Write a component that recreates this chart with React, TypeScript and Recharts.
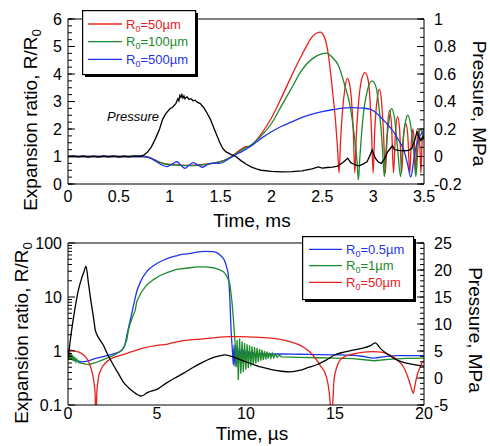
import React from 'react';
import { LineChart, Line, XAxis, YAxis, Legend, ReferenceDot } from 'recharts';

const FONT = '"Liberation Sans", Arial, Helvetica, sans-serif';
const BLACK = '#000000';
const RED = '#e8201c';
const GREEN = '#1b8a2b';
const BLUE = '#1f35e8';

// ---------------- Top panel (time in ms) ----------------
const topTimeTicks = [0, 0.5, 1, 1.5, 2, 2.5, 3, 3.5];
const topRatioTicks = [0, 1, 2, 3, 4, 5, 6];
const topPressureTicks = [-0.2, 0, 0.2, 0.4, 0.6, 0.8, 1];
const topLegendLabels = ['=50µm', '=100µm', '=500µm'];
const topLegendColors = [RED, GREEN, BLUE];

const topPressure: [number, number][] = [
  [0, 0.0], [0.05, 0.004], [0.1, -0.003], [0.15, 0.005], [0.2, -0.004], [0.25, 0.003], [0.3, -0.005],
  [0.35, 0.004], [0.4, -0.002], [0.45, 0.005], [0.5, -0.004], [0.55, 0.003], [0.6, -0.003], [0.65, 0.004],
  [0.7, 0.002], [0.74, 0.008], [0.78, 0.03], [0.82, 0.07], [0.86, 0.13], [0.9, 0.2], [0.93, 0.27],
  [0.96, 0.31], [1.0, 0.345], [1.03, 0.36], [1.06, 0.385], [1.08, 0.42], [1.09, 0.405], [1.1, 0.445],
  [1.11, 0.43], [1.12, 0.45], [1.13, 0.425], [1.14, 0.44], [1.15, 0.42], [1.17, 0.435], [1.19, 0.415],
  [1.21, 0.42], [1.23, 0.405], [1.25, 0.41], [1.27, 0.395], [1.3, 0.385], [1.33, 0.36], [1.36, 0.325],
  [1.4, 0.27], [1.43, 0.215], [1.46, 0.16], [1.49, 0.105], [1.52, 0.06], [1.55, 0.035], [1.6, 0.015],
  [1.65, 0.0], [1.7, -0.03], [1.75, -0.055], [1.8, -0.075], [1.85, -0.09], [1.9, -0.1], [2.0, -0.108],
  [2.1, -0.112], [2.2, -0.11], [2.3, -0.105], [2.4, -0.09], [2.46, -0.075], [2.5, -0.085], [2.55, -0.08],
  [2.6, -0.078], [2.65, -0.07], [2.7, -0.045], [2.75, -0.012], [2.78, -0.045], [2.82, -0.06], [2.86, -0.068],
  [2.9, -0.055], [2.94, -0.038], [2.97, 0.01], [2.99, 0.048], [3.02, -0.01], [3.05, -0.04], [3.08, -0.05],
  [3.11, -0.02], [3.14, 0.03], [3.17, 0.06], [3.19, 0.078], [3.21, 0.05], [3.25, 0.045], [3.3, 0.042],
  [3.35, 0.045], [3.38, 0.06], [3.41, 0.12], [3.43, 0.18], [3.45, 0.14], [3.47, 0.115], [3.49, 0.145], [3.5, 0.13],
];

const topR50: [number, number][] = [
  [0, 1], [0.75, 1], [0.8, 0.97], [0.85, 0.88], [0.9, 0.8], [0.95, 0.74], [1.0, 0.71], [1.1, 0.69],
  [1.2, 0.68], [1.3, 0.7], [1.4, 0.74], [1.5, 0.82], [1.55, 0.88], [1.6, 0.98], [1.65, 1.12], [1.7, 1.26],
  [1.75, 1.36], [1.79, 1.38], [1.83, 1.5], [1.9, 1.82], [2.0, 2.4], [2.1, 3.15], [2.2, 3.95], [2.3, 4.7],
  [2.35, 5.05], [2.4, 5.35], [2.45, 5.5], [2.48, 5.52], [2.52, 5.35], [2.56, 4.7], [2.6, 3.4], [2.63, 2.3],
  [2.65, 1.3], [2.665, 0.4], [2.68, 1.6], [2.7, 2.7], [2.72, 3.4], [2.745, 3.84], [2.77, 3.6], [2.79, 2.9],
  [2.805, 1.9], [2.82, 0.4], [2.835, 1.8], [2.86, 3.1], [2.89, 3.85], [2.92, 4.05], [2.95, 3.8], [2.97, 3.0],
  [2.985, 1.8], [3.0, 0.4], [3.015, 1.9], [3.04, 3.1], [3.06, 3.44], [3.08, 3.1], [3.1, 2.0], [3.12, 0.4],
  [3.14, 2.0], [3.16, 2.69], [3.18, 2.2], [3.2, 0.4], [3.22, 1.9], [3.24, 2.45], [3.26, 2.0], [3.28, 0.4],
  [3.3, 1.8], [3.32, 2.2], [3.34, 1.8], [3.36, 0.4], [3.375, 1.5], [3.39, 2.0], [3.405, 1.5], [3.42, 0.4],
  [3.43, 1.4], [3.445, 1.95], [3.46, 1.3], [3.47, 0.4], [3.48, 1.4], [3.49, 1.9], [3.5, 1.7],
];

const topR100: [number, number][] = [
  [0, 1], [0.75, 1], [0.8, 0.96], [0.9, 0.79], [1.0, 0.7], [1.1, 0.68], [1.2, 0.67], [1.3, 0.69],
  [1.4, 0.73], [1.5, 0.81], [1.6, 0.97], [1.7, 1.22], [1.8, 1.42], [1.9, 1.75], [2.0, 2.2], [2.1, 2.85],
  [2.2, 3.5], [2.3, 4.15], [2.4, 4.55], [2.5, 4.74], [2.54, 4.76], [2.6, 4.6], [2.66, 4.3], [2.72, 3.6],
  [2.77, 2.9], [2.81, 1.9], [2.84, 0.9], [2.855, 0.15], [2.87, 1.0], [2.9, 2.4], [2.94, 3.35], [2.99, 3.75],
  [3.03, 3.5], [3.06, 2.7], [3.09, 1.4], [3.11, 0.27], [3.13, 1.4], [3.16, 2.4], [3.18, 2.75], [3.21, 2.4],
  [3.24, 1.3], [3.27, 0.27], [3.29, 1.4], [3.32, 2.3], [3.34, 2.5], [3.37, 2.1], [3.4, 1.1], [3.42, 0.27],
  [3.44, 1.3], [3.46, 1.99], [3.48, 1.9], [3.5, 1.6],
];

const topR500: [number, number][] = [
  [0, 1], [0.75, 1], [0.77, 0.99], [0.82, 0.92], [0.87, 0.81], [0.92, 0.7], [0.97, 0.63], [1.02, 0.72],
  [1.07, 0.81], [1.11, 0.68], [1.15, 0.57], [1.19, 0.68], [1.23, 0.78], [1.28, 0.68], [1.32, 0.61],
  [1.36, 0.68], [1.4, 0.75], [1.45, 0.76], [1.49, 0.75], [1.53, 0.8], [1.56, 0.87], [1.6, 0.96],
  [1.65, 1.07], [1.7, 1.16], [1.8, 1.38], [1.9, 1.66], [2.0, 1.9], [2.1, 2.1], [2.2, 2.26], [2.3, 2.42],
  [2.4, 2.54], [2.5, 2.63], [2.6, 2.7], [2.7, 2.76], [2.8, 2.78], [2.9, 2.76], [2.97, 2.72], [3.05, 2.52],
  [3.12, 2.25], [3.2, 1.9], [3.25, 1.6], [3.3, 1.25], [3.34, 0.7], [3.37, 0.25], [3.4, 0.9], [3.43, 1.48],
  [3.47, 1.8], [3.5, 1.98],
];

// ---------------- Bottom panel (time in µs) ----------------
const botTimeTicks = [0, 5, 10, 15, 20];
const botRatioTicks = [0.1, 1, 10, 100];
const botPressureTicks = [-5, 0, 5, 10, 15, 20, 25];
const botLegendLabels = ['=0.5µm', '=1µm', '=50µm'];
const botLegendColors = [BLUE, GREEN, RED];

const botPressure: [number, number][] = [
  [0, 3.5], [0.15, 7.5], [0.3, 11], [0.45, 14], [0.6, 16.5], [0.77, 18.5], [0.9, 19.7], [1.01, 20.7],
  [1.15, 17.5], [1.3, 14], [1.45, 10.8], [1.53, 8.9], [1.75, 7.3], [1.98, 6.1], [2.25, 4.2], [2.55, 2.4],
  [2.8, 1.0], [3.1, -0.7], [3.4, -1.8], [3.67, -2.54], [3.9, -3.1], [4.1, -3.33], [4.25, -3.2], [4.4, -2.8],
  [4.6, -2.5], [5.0, -2.1], [5.5, -1.0], [6.0, 0.0], [6.5, 0.9], [7.0, 1.9], [7.5, 2.8], [8.0, 3.6],
  [8.5, 4.1], [8.8, 4.3], [9.2, 4.0], [9.6, 3.5], [10.0, 3.0], [10.5, 2.4], [11.0, 1.9], [11.5, 1.5],
  [12.0, 1.25], [12.5, 1.15], [13.0, 1.4], [13.5, 1.95], [14.0, 2.5], [14.5, 3.3], [15.0, 4.3], [15.5, 4.8],
  [16.0, 5.15], [16.5, 5.5], [17.0, 6.0], [17.25, 6.5], [17.6, 5.3], [18.0, 4.3], [18.5, 3.3], [19.0, 2.75],
  [19.5, 2.45], [20, 2.2],
];

const botR05: [number, number][] = [
  [0, 1.0], [0.1, 0.85], [0.2, 0.78], [0.3, 0.72], [0.41, 0.68], [0.6, 0.65], [0.79, 0.63], [1.0, 0.64],
  [1.16, 0.66], [1.5, 0.72], [1.91, 0.78], [2.3, 0.84], [2.66, 0.9], [3.03, 1.04], [3.15, 1.2], [3.22, 1.39],
  [3.3, 1.9], [3.41, 2.8], [3.48, 3.5], [3.6, 5.3], [3.72, 8], [3.86, 12.5], [4.1, 20], [4.42, 29.4],
  [4.8, 38], [5.17, 45], [5.6, 52], [6.1, 58], [6.5, 62], [6.85, 64], [7.23, 68], [7.7, 70], [8.16, 69],
  [8.4, 65], [8.54, 60], [8.7, 53], [8.82, 45], [8.92, 35], [9.01, 25], [9.06, 15], [9.1, 8.2], [9.15, 3],
  [9.2, 1.5], [9.25, 0.9], [9.29, 0.55], [9.33, 1.3], [9.38, 0.52], [9.43, 1.25], [9.48, 0.56], [9.53, 1.18],
  [9.58, 0.6], [9.63, 1.12], [9.69, 0.64], [9.75, 1.08], [9.81, 0.68], [9.87, 1.04], [9.93, 0.72], [10.0, 1.0],
  [10.07, 0.76], [10.14, 0.97], [10.21, 0.79], [10.28, 0.95], [10.36, 0.82], [10.44, 0.93], [10.52, 0.84],
  [10.6, 0.91], [10.7, 0.86], [10.8, 0.9], [11.0, 0.88], [12, 0.88], [13, 0.87], [14, 0.86], [15, 0.85],
  [16, 0.83], [16.5, 0.8], [17.2, 0.74], [17.8, 0.79], [18.5, 0.82], [20, 0.82],
];

const botR1: [number, number][] = [
  [0, 1.0], [0.04, 0.72], [0.08, 0.95], [0.12, 0.7], [0.16, 0.9], [0.2, 0.68], [0.24, 0.85], [0.28, 0.66],
  [0.32, 0.8], [0.36, 0.64], [0.4, 0.75], [0.45, 0.63], [0.5, 0.7], [0.6, 0.61], [0.79, 0.59], [1.0, 0.57],
  [1.16, 0.56], [1.5, 0.6], [1.91, 0.68], [2.3, 0.76], [2.66, 0.86], [3.03, 1.04], [3.15, 1.2], [3.3, 1.6],
  [3.4, 2.5], [3.5, 3.26], [3.65, 4.5], [3.78, 5.7], [3.86, 8.2], [4.1, 12], [4.42, 16.7], [4.8, 21],
  [5.17, 25], [5.6, 28.5], [6.1, 32.5], [6.85, 34.8], [7.23, 36], [7.7, 36], [8.16, 34.8], [8.5, 32],
  [8.73, 29.4], [8.9, 25], [9.0, 21], [9.1, 16.7], [9.2, 9], [9.29, 4.0], [9.38, 1.5], [9.45, 0.5],
  [9.5, 1.6], [9.57, 0.29], [9.64, 1.7], [9.71, 0.38], [9.78, 1.5], [9.85, 0.41], [9.92, 1.4], [9.99, 0.45],
  [10.06, 1.33], [10.13, 0.48], [10.2, 1.27], [10.27, 0.52], [10.34, 1.22], [10.41, 0.55], [10.48, 1.18],
  [10.55, 0.59], [10.62, 1.13], [10.69, 0.63], [10.76, 1.09], [10.83, 0.66], [10.9, 1.05], [10.97, 0.68],
  [11.04, 1.0], [11.11, 0.7], [11.18, 0.97], [11.25, 0.72], [11.32, 0.93], [11.4, 0.74], [11.48, 0.9],
  [11.56, 0.75], [11.65, 0.87], [11.75, 0.76], [11.85, 0.84], [12.0, 0.78], [13, 0.76], [14, 0.75],
  [15, 0.74], [16, 0.72], [17.2, 0.66], [18, 0.7], [19, 0.73], [20, 0.74],
];

const botR50: [number, number][] = [
  [0, 1.05], [0.4, 1.0], [0.8, 0.88], [1.0, 0.77], [1.16, 0.63], [1.3, 0.47], [1.44, 0.29], [1.52, 0.17],
  [1.57, 0.05], [1.62, 0.17], [1.72, 0.33], [1.85, 0.45], [2.0, 0.55], [2.3, 0.68], [2.6, 0.77], [3.0, 0.84],
  [3.5, 0.95], [4.16, 1.12], [5.0, 1.27], [5.54, 1.33], [6.0, 1.45], [6.85, 1.6], [7.42, 1.66], [8.0, 1.73],
  [8.5, 1.8], [9.1, 1.84], [9.66, 1.84], [10.5, 1.8], [11.53, 1.72], [12.0, 1.62], [12.47, 1.49], [13.0, 1.3],
  [13.4, 1.08], [13.7, 0.88], [13.97, 0.68], [14.2, 0.52], [14.44, 0.39], [14.6, 0.25], [14.72, 0.12],
  [14.8, 0.04], [14.88, 0.12], [14.95, 0.3], [15.1, 0.5], [15.28, 0.68], [15.6, 0.8], [16.03, 0.88],
  [16.5, 0.94], [17.15, 0.97], [17.6, 0.95], [18.09, 0.84], [18.5, 0.68], [18.84, 0.51], [19.05, 0.36],
  [19.21, 0.25], [19.32, 0.19], [19.4, 0.165], [19.48, 0.22], [19.59, 0.33], [19.75, 0.48], [19.87, 0.59],
  [20, 0.66],
];

// ---------------- helpers ----------------
const toPts = (arr: [number, number][]) => arr.map(([t, v]) => ({ t, v }));
const steps = (a: number, b: number, s: number) => {
  const out: number[] = [];
  for (let i = 0; a + i * s <= b + 1e-9; i++) out.push(+(a + i * s).toFixed(5));
  return out;
};
const topTimeMinor = steps(0, 3.5, 0.1);
const topRatioMinor = steps(0, 6, 0.25);
const topPressureMinor = steps(-0.2, 1, 0.2 / 3);
const botTimeMinor = steps(0, 20, 1);
const botRatioMinor = [0.2, 0.3, 0.4, 0.5, 0.6, 0.7, 0.8, 0.9, 2, 3, 4, 5, 6, 7, 8, 9, 20, 30, 40, 50, 60, 70, 80, 90];
const botPressureMinor = steps(-5, 25, 1);

const blank = () => '';
const lineStyle = { stroke: BLACK, strokeWidth: 1 };
const tickText = { fill: BLACK, fontSize: 16, fontFamily: FONT };
const MAJ = 7;
const MIN = 4;
const THIN = 0.01; // near-zero size so mirrored tick axes do not shift each other

// Mirrored thin axes that draw the inward-pointing major/minor tick marks on all four sides.
function frameAxes(xDomain: number[], xMajor: number[], xMinor: number[], lDomain: number[], lMajor: number[], lMinor: number[], lScale: any, rDomain: number[], rMajor: number[], rMinor: number[]) {
  const xs: [string, string, number[], number, boolean][] = [
    ['xbM', 'bottom', xMajor, MAJ, false], ['xbm', 'bottom', xMinor, MIN, false],
    ['xtM', 'top', xMajor, MAJ, true], ['xtm', 'top', xMinor, MIN, false],
  ];
  const ys: [string, string, number[], number, any, number[]][] = [
    ['lM', 'left', lMajor, MAJ, lScale, lDomain], ['lm', 'left', lMinor, MIN, lScale, lDomain],
    ['rM', 'right', rMajor, MAJ, 'linear', rDomain], ['rm', 'right', rMinor, MIN, 'linear', rDomain],
  ];
  return [
    ...xs.map(([id, ori, ticks, size, line]) => (
      <XAxis key={id} xAxisId={id} orientation={ori as any} mirror type="number" domain={xDomain} allowDataOverflow
        ticks={ticks} interval={0} height={THIN} tickSize={size} tickMargin={0} axisLine={line ? lineStyle : false}
        tickLine={lineStyle} tickFormatter={blank} />
    )),
    ...ys.map(([id, ori, ticks, size, scale, dom]) => (
      <YAxis key={id} yAxisId={id} orientation={ori as any} mirror type="number" scale={scale} domain={dom} allowDataOverflow
        ticks={ticks} interval={0} width={THIN} tickSize={size} tickMargin={0} axisLine={false}
        tickLine={lineStyle} tickFormatter={blank} />
    )),
  ];
}

const Sub0 = () => <tspan fontSize="70%" dy="0.3em">0</tspan>;

function leftTitle(dx: number, dyc: number) {
  return (props: any) => {
    const vb = props.viewBox || { x: 0, y: 0, width: 68, height: 165 };
    const cx = vb.x + dx;
    const cy = vb.y + vb.height / 2 + dyc;
    return (
      <text x={cx} y={cy} transform={`rotate(-90 ${cx} ${cy})`} textAnchor="middle" fill={BLACK} fontSize={19} fontFamily={FONT}>
        Expansion ratio, R/R<Sub0 />
      </text>
    );
  };
}
function rightTitle(dx: number, dyc: number) {
  return (props: any) => {
    const vb = props.viewBox || { x: 424, y: 0, width: 66, height: 165 };
    const cx = vb.x + dx;
    const cy = vb.y + vb.height / 2 + dyc;
    return (
      <text x={cx} y={cy} transform={`rotate(90 ${cx} ${cy})`} textAnchor="middle" fill={BLACK} fontSize={19} fontFamily={FONT}>
        Pressure, MPa
      </text>
    );
  };
}
function bottomTitle(text: string, dxc: number, dy: number) {
  return (props: any) => {
    const vb = props.viewBox || { x: 68, y: 0, width: 356, height: 40 };
    return (
      <text x={vb.x + vb.width / 2 + dxc} y={vb.y + dy} textAnchor="middle" fill={BLACK} fontSize={19} fontFamily={FONT}>
        {text}
      </text>
    );
  };
}

function LegendBox({ labels, colors, w, h, rows, lx1, lx2, tx }: any) {
  return (
    <svg width={w + 5} height={h + 5} style={{ display: 'block', overflow: 'visible' }}>
      <rect x={3} y={3} width={w} height={h} fill={BLACK} />
      <rect x={0.6} y={0.6} width={w} height={h} fill="#fff" stroke={BLACK} strokeWidth={1.2} />
      {labels.map((lab: string, i: number) => (
        <g key={lab}>
          <line x1={lx1} x2={lx2} y1={rows[i]} y2={rows[i]} stroke={colors[i]} strokeWidth={1.3} />
          <text x={tx} y={rows[i] + 4.6} fill={colors[i]} fontSize={13} fontFamily={FONT}>
            R<tspan fontSize={9} dy={3}>0</tspan><tspan dy={-3}>{lab}</tspan>
          </text>
        </g>
      ))}
    </svg>
  );
}

const PressureTag = (props: any) => {
  const vb = props.viewBox || { x: 159, y: 121 };
  return (
    <text x={vb.x} y={vb.y} textAnchor="end" fill={BLACK} fontSize={13} fontStyle="italic" fontFamily={FONT}>
      Pressure
    </text>
  );
};

export default function App() {
  return (
    <div style={{ position: 'absolute', left: 0, top: 0, width: 490, height: 446, background: '#fff', fontFamily: FONT }}>
      <div style={{ position: 'absolute', left: 0, top: 0 }}>
        <LineChart width={490} height={240} margin={{ top: 19, right: 0, bottom: 0, left: 0 }}>
          {frameAxes([0, 3.5], topTimeTicks, topTimeMinor, [0, 6], topRatioTicks, topRatioMinor, 'linear', [-0.2, 1], topPressureTicks, topPressureMinor)}
          <XAxis xAxisId="x" type="number" dataKey="t" domain={[0, 3.5]} allowDataOverflow ticks={topTimeTicks} interval={0}
            height={56} tickSize={0} tickMargin={7} axisLine={lineStyle} tickLine={false} tick={tickText}
            label={bottomTitle('Time, ms', 6, 43)} />
          <YAxis yAxisId="l" type="number" domain={[0, 6]} allowDataOverflow ticks={topRatioTicks} interval={0}
            width={68} tickSize={0} tickMargin={6} axisLine={lineStyle} tickLine={false} tick={tickText}
            label={leftTitle(37, 18.5)} />
          <YAxis yAxisId="r" orientation="right" type="number" domain={[-0.2, 1]} allowDataOverflow ticks={topPressureTicks} interval={0}
            width={66} tickSize={0} tickMargin={10} axisLine={lineStyle} tickLine={false} tick={tickText}
            label={rightTitle(49, 2)} />
          <Line xAxisId="x" yAxisId="l" data={toPts(topR50)} dataKey="v" name="R0=50µm" type="monotone" stroke={RED} strokeWidth={1.3} dot={false} activeDot={false} isAnimationActive={false} />
          <Line xAxisId="x" yAxisId="l" data={toPts(topR100)} dataKey="v" name="R0=100µm" type="monotone" stroke={GREEN} strokeWidth={1.3} dot={false} activeDot={false} isAnimationActive={false} />
          <Line xAxisId="x" yAxisId="l" data={toPts(topR500)} dataKey="v" name="R0=500µm" type="monotone" stroke={BLUE} strokeWidth={1.3} dot={false} activeDot={false} isAnimationActive={false} />
          <Line xAxisId="x" yAxisId="r" data={toPts(topPressure)} dataKey="v" name="Pressure" legendType="none" type="linear" stroke={BLACK} strokeWidth={1.3} dot={false} activeDot={false} isAnimationActive={false} />
          <ReferenceDot xAxisId="x" yAxisId="l" x={0.895} y={2.3} r={0} fill="none" stroke="none" label={PressureTag} />
          <Legend layout="horizontal" verticalAlign="middle" align="center"
            wrapperStyle={{ left: 82, top: 10, width: 120, height: 70 }}
            content={() => (
              <LegendBox labels={topLegendLabels} colors={topLegendColors} w={113} h={64}
                rows={[14, 31.7, 49.3]} lx1={6} lx2={40} tx={44} />
            )} />
        </LineChart>
      </div>
      <div style={{ position: 'absolute', left: 0, top: 220 }}>
        <LineChart width={490} height={226} margin={{ top: 23, right: 0, bottom: 0, left: 0 }}>
          {frameAxes([0, 20], botTimeTicks, botTimeMinor, [0.1, 100], botRatioTicks, botRatioMinor, 'log', [-5, 25], botPressureTicks, botPressureMinor)}
          <XAxis xAxisId="x" type="number" dataKey="t" domain={[0, 20]} allowDataOverflow ticks={botTimeTicks} interval={0}
            height={41} tickSize={0} tickMargin={3} axisLine={lineStyle} tickLine={false} tick={tickText}
            label={bottomTitle('Time, µs', 6, 35)} />
          <YAxis yAxisId="l" type="number" scale="log" domain={[0.1, 100]} allowDataOverflow ticks={botRatioTicks} interval={0}
            width={68} tickSize={0} tickMargin={6} axisLine={lineStyle} tickLine={false} tick={tickText}
            label={leftTitle(28, 9)} />
          <YAxis yAxisId="r" orientation="right" type="number" domain={[-5, 25]} allowDataOverflow ticks={botPressureTicks} interval={0}
            width={66} tickSize={0} tickMargin={10} axisLine={lineStyle} tickLine={false} tick={tickText}
            label={rightTitle(45, 6)} />
          <Line xAxisId="x" yAxisId="l" data={toPts(botR05)} dataKey="v" name="R0=0.5µm" type="monotone" stroke={BLUE} strokeWidth={1.3} dot={false} activeDot={false} isAnimationActive={false} />
          <Line xAxisId="x" yAxisId="l" data={toPts(botR1)} dataKey="v" name="R0=1µm" type="linear" stroke={GREEN} strokeWidth={1.3} dot={false} activeDot={false} isAnimationActive={false} />
          <Line xAxisId="x" yAxisId="l" data={toPts(botR50)} dataKey="v" name="R0=50µm" type="monotone" stroke={RED} strokeWidth={1.3} dot={false} activeDot={false} isAnimationActive={false} />
          <Line xAxisId="x" yAxisId="r" data={toPts(botPressure)} dataKey="v" name="Pressure" legendType="none" type="monotone" stroke={BLACK} strokeWidth={1.3} dot={false} activeDot={false} isAnimationActive={false} />
          <Legend layout="horizontal" verticalAlign="middle" align="center"
            wrapperStyle={{ left: 302, top: 16, width: 120, height: 70 }}
            content={() => (
              <LegendBox labels={botLegendLabels} colors={botLegendColors} w={111} h={63}
                rows={[13.3, 29.7, 46.3]} lx1={7} lx2={40} tx={44} />
            )} />
        </LineChart>
      </div>
    </div>
  );
}
